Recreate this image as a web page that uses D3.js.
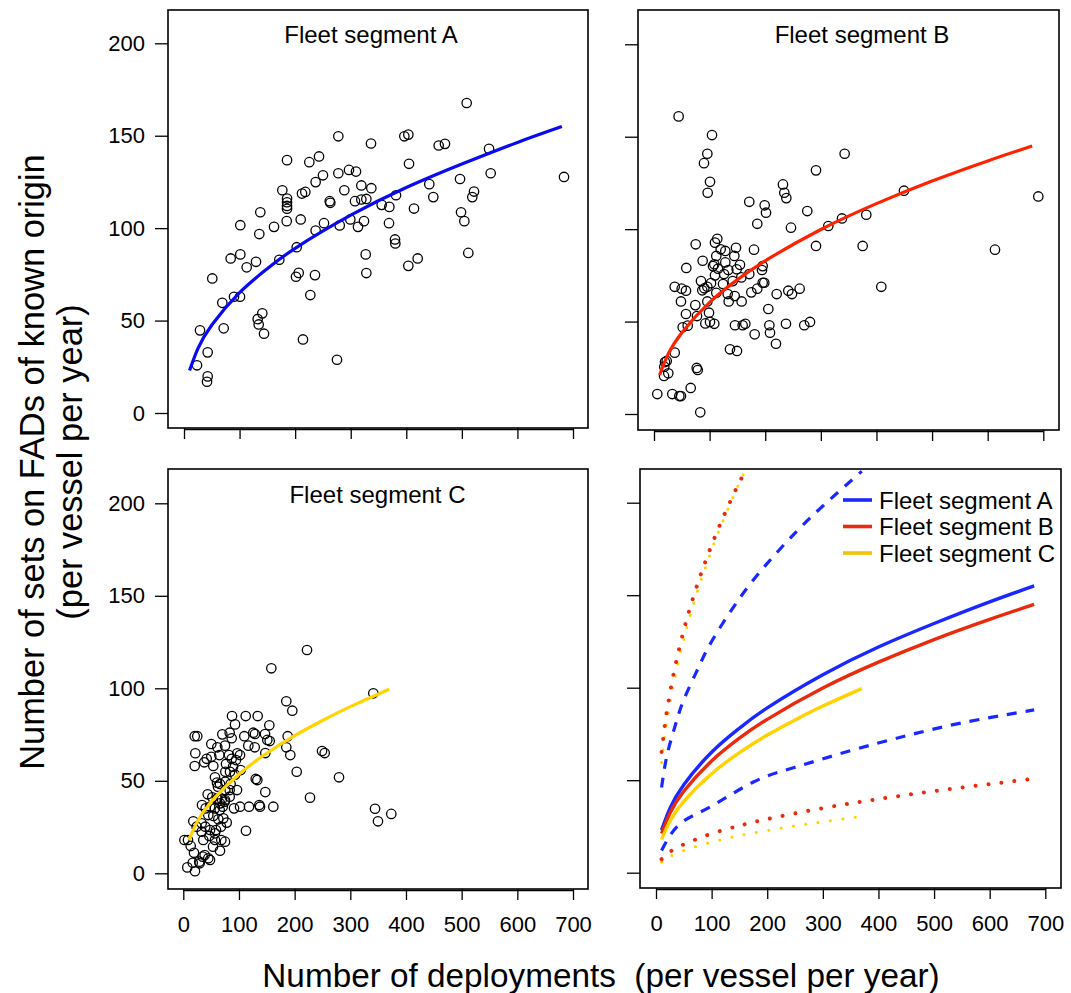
<!DOCTYPE html>
<html>
<head>
<meta charset="utf-8">
<script src="https://cdn.jsdelivr.net/npm/d3@7"></script>
<style>
  html, body { margin: 0; padding: 0; background: #fff; }
  svg { display: block; font-family: "Liberation Sans", Arial, Helvetica, sans-serif; }
</style>
</head>
<body>
<svg id="chart" width="1071" height="993"></svg>
<script>
// ---------------- DATA ----------------
const xTicks = [0, 100, 200, 300, 400, 500, 600, 700];
const yTicks = [0, 50, 100, 150, 200];
const panelTitles = ["Fleet segment A", "Fleet segment B", "Fleet segment C"];
const legendLabels = ["Fleet segment A", "Fleet segment B", "Fleet segment C"];
const xAxisTitle = "Number of deployments  (per vessel per year)";
const yAxisTitle1 = "Number of sets on FADs of known origin";
const yAxisTitle2 = "(per vessel per year)";

// Fleet segment A observations [deployments, sets]
const pointsA = [[508.7,167.7],[277.7,149.7],[396.5,149.7],[403.7,150.6],[336.5,145.8],[458.3,144.7],[469.6,145.6],[548.9,142.9],[185.4,136.8],[225.5,135.7],[243,138.8],[404.9,134.8],[296.9,131.5],[309.5,130.6],[277.7,129.7],[250.1,128.6],[551.9,129.7],[683.8,127.7],[496.7,126.6],[236.9,124.9],[319.1,123.1],[337.1,121.6],[288.5,120.5],[176.9,120.5],[212.3,118.7],[218.3,119.6],[185.4,116],[185.4,114],[185.4,112],[185.4,110.5],[262.2,114.6],[263.3,113.7],[307.7,114.6],[319.1,115.5],[328.1,115.8],[441.4,123.8],[381.5,117.8],[521.9,119.8],[518.8,116.8],[448.6,116.8],[355.7,112.6],[369.5,111.5],[137.3,108.6],[413.9,110.6],[498.5,108.6],[504.5,103.8],[210,104.7],[184.8,103.8],[251.9,102.7],[299.3,104.7],[323.9,103.8],[280.2,101.5],[313.1,100.7],[368.9,102.7],[101.3,101.6],[162,100.7],[135.5,96.8],[236.9,98.7],[379.7,93.9],[380.3,91.7],[202.8,89.7],[101.3,85.8],[84,83.6],[129.6,81.8],[112.8,78.8],[171.5,82.9],[327,85.8],[420.5,83.6],[403.7,79.6],[511.6,86.6],[328.1,75.7],[206.4,75.8],[201.5,73.7],[235.7,74.6],[50.9,72.8],[227.3,63.8],[90,62.9],[100.8,62.9],[68.9,59.6],[140.9,53.9],[132.6,50.8],[134.4,47.9],[144,42.9],[28.8,44.7],[71.4,45.8],[214.1,39.8],[42.6,32.8],[275.3,28.8],[23.4,25.8],[42.6,19.8],[41.4,16.9]];

// Fleet segment B observations
const pointsB = [[44.3,161],[104.3,150.9],[95.9,140.8],[89.9,135.7],[100.7,125.6],[96.5,119.7],[342.8,140.8],[291.3,131.8],[231.9,124.2],[234.3,119.7],[237.9,116.8],[449.5,120.8],[691,117.7],[171.3,114.8],[199,112.9],[201.4,108.9],[275.6,109.8],[381.7,107.8],[338,105.8],[313.4,101.7],[185.7,102.9],[246.3,100.8],[291.3,90.9],[375.2,90.9],[613.1,88.9],[113.8,94.8],[109.7,92.7],[75,91.8],[147.4,89.9],[128.2,88.2],[119.9,89.1],[179.8,88.9],[112,85.5],[144.4,85.5],[128.2,82],[154.6,80.7],[87.5,82.9],[108.4,81],[106.1,80],[58.1,79],[195.4,80],[194.2,77.9],[115.1,78.6],[133.6,77.9],[148.7,78.3],[125.9,75.7],[109.7,75],[171.3,75.7],[157,73.9],[141.5,71.9],[124.1,70.3],[102.5,70.8],[84.5,71.9],[195.4,71],[198.3,71],[95.9,68.8],[86.8,66.9],[90.5,68],[37.2,68.8],[49.8,67.8],[57.5,66.7],[185.7,67.8],[175,65.8],[112,65.6],[132.5,64.9],[145.1,63.8],[220.6,64.9],[241.5,66.7],[248.1,64.9],[261.9,67.8],[95.9,60.9],[48.5,60.9],[134.3,60.9],[157.6,60.9],[74.3,58.9],[205.6,56.8],[57.5,54.1],[98.9,54.8],[77.3,53],[92.3,49],[108.4,48.8],[100.7,49.8],[145.6,48],[159.4,48],[164.2,48.8],[207.4,48],[208.6,44],[237.3,48.8],[270.2,48],[280.5,49.8],[51.6,46.9],[60.6,47.8],[181,43.1],[219.3,38],[136.6,35],[149.2,34.1],[408.7,68.8],[37.2,33.2],[19.8,28.1],[22.8,28.7],[18.5,25.6],[25.7,22],[18,20.6],[76.8,24.9],[78.6,23.8],[66,14.1],[5.9,10.8],[32.9,10.8],[45.5,9.7],[48.5,9.7],[83.2,0.9]];

// Fleet segment C observations
const pointsC = [[222.2,120.7],[158.1,110.8],[341.3,97.3],[185,93],[195.8,87.9],[87.5,85],[112.1,85],[133.6,85],[92.9,80.5],[154.5,80],[20.5,74.1],[25.1,74.1],[70.1,75.1],[83.3,76],[109.6,74.1],[125.7,76],[128.8,75.3],[146.8,75.3],[187.5,74.1],[150.9,72.1],[155.2,71.5],[86.9,73],[50.3,69.9],[61.1,68.1],[116.8,69],[128.3,68.1],[185,68.1],[147.3,65],[192.2,63.9],[249.2,66.1],[254,65],[21.6,64.9],[74.9,69],[82.1,63.9],[97,64.9],[101.9,63.9],[64.7,63.9],[50.3,63],[42,61.9],[37.7,60],[53.9,58],[20.5,58],[76.7,59.1],[86.9,61.9],[94.7,61.2],[103.1,55.8],[83.9,54.9],[92.9,53.3],[56.9,51.9],[60.5,49],[65.9,48.3],[203.7,54.9],[279.7,51.9],[130.1,51],[133,50.4],[75.4,45],[83.3,45],[96.5,45],[147.3,43.9],[43.8,42.7],[52.1,41.1],[60.5,40],[69.5,40],[74.9,39.6],[227.6,40.9],[33.6,36.9],[40.2,35.1],[48,36],[56.9,35.1],[65.9,37.8],[74.4,38.7],[70.8,36],[91.1,35.1],[101.9,36],[118,36],[136.5,36.9],[137.8,36],[161.7,36],[344.4,34.9],[373.6,32.1],[349.7,28.1],[18,28.1],[33,27],[44.9,31.5],[53.9,31],[62.9,29.2],[71.9,29.7],[78,27.4],[67.7,25.2],[58.7,23.4],[112.6,23],[2,18],[8.4,18],[13.3,14.8],[19.2,11.1],[35.9,18],[46.7,20.2],[56.9,18],[74.9,17.1],[65.9,12.2],[34.8,9],[44.9,8.1],[48,7.2],[28.7,6.3],[16.9,5.7],[7.2,3.2],[21,1.1],[33,22.5],[24,25.2],[48,23.4],[56.9,21.6],[61,40.5],[89.3,57.6],[75.5,54.9],[62.3,46.8],[75.5,49.5],[85,48.3],[83.3,41.4],[65.4,34.2],[39.5,25.2],[68.3,18],[53.4,14.4],[29.4,5.4],[38.4,9.9]];

// Fitted curves
const fitAx = [10, 25, 50, 100, 150, 200, 300, 400, 500, 600, 680];
const fitAy = [23, 34.8, 47.6, 65.1, 78.1, 89.1, 107, 122, 134.7, 146.4, 155];
const fitBx = [10, 25, 50, 100, 150, 200, 300, 400, 500, 600, 680];
const fitBy = [21.1, 32.1, 44, 60.4, 72.7, 82.9, 99.8, 113.8, 126, 136.9, 145];
const fitCx = [10, 25, 50, 100, 150, 200, 250, 300, 370];
const fitCy = [18, 27.8, 38.6, 53.5, 64.9, 74.4, 82.6, 90.1, 99.5];

// Bounds (panel D)
const upAx = [10, 20, 35, 50, 75, 100, 150, 200, 250, 300, 370];
const upAy = [46, 63.7, 80, 93.5, 110, 125, 148.2, 167.2, 183.6, 198.2, 217];
const loAx = [10, 25, 50, 100, 175, 250, 350, 450, 550, 680];
const loAy = [12, 20, 28, 36, 49, 57, 66, 74, 81, 88];
const upBx = [10, 15, 20, 30, 40, 50, 60, 75, 90, 110, 130, 150, 170];
const upBy = [65.3, 77.9, 88.2, 105.1, 119, 131.1, 141.9, 156.3, 169.1, 184.5, 198.3, 211, 222.8];
const loBx = [10, 25, 50, 100, 150, 200, 300, 400, 500, 600, 680];
const loBy = [7.3, 11.2, 15.3, 21.1, 25.4, 29, 34.9, 39.8, 44.1, 47.9, 50.8];
const upCx = [10, 15, 20, 30, 40, 50, 60, 75, 90, 110, 130, 150, 170];
const upCy = [59.6, 72, 82.4, 99.5, 113.8, 126.3, 137.5, 152.5, 166, 182.4, 197, 210.7, 223.4];
const loCx = [10, 25, 50, 100, 150, 200, 250, 300, 360];
const loCy = [5.7, 8.7, 12, 16.5, 20, 22.8, 25.3, 27.5, 30];

// ---------------- DRAWING ----------------
const svg = d3.select("#chart");
const FONT_TICK = 22, FONT_TITLE = 24, FONT_XAXIS = 33.3, FONT_YAXIS = 34.4;

const panelGeo = [
  { box: [168, 10, 588, 428], x0: 184, x700: 573, y0: 413, y200: 43.3, yLabels: true,  xLabels: false, titleX: 371,   titleY: 43.3 },
  { box: [638, 10, 1059, 430], x0: 654, x700: 1043.3, y0: 414, y200: 44.3, yLabels: false, xLabels: false, titleX: 862, titleY: 43.3 },
  { box: [168, 469, 588, 889], x0: 183.3, x700: 573, y0: 873.3, y200: 503.3, yLabels: true, xLabels: true, titleX: 377.5, titleY: 503.3 },
  { box: [640, 469, 1061, 888], x0: 656, x700: 1045.3, y0: 872.7, y200: 502.7, yLabels: false, xLabels: true }
];

function setup(i) {
  const g = panelGeo[i];
  const x = d3.scaleLinear().domain([0, 700]).range([g.x0, g.x700]);
  const y = d3.scaleLinear().domain([0, 200]).range([g.y0, g.y200]);
  const [bx0, by0, bx1, by1] = g.box;

  const clipId = "clip" + i;
  svg.append("clipPath").attr("id", clipId)
    .append("rect").attr("x", bx0).attr("y", by0).attr("width", bx1 - bx0).attr("height", by1 - by0);

  // x axis
  const xa = svg.append("g").attr("transform", `translate(0,${by1})`)
    .call(d3.axisBottom(x).tickValues(xTicks).tickSize(11).tickSizeOuter(0)
      .tickFormat(g.xLabels ? d3.format("d") : () => ""));
  xa.select(".domain").remove();
  xa.selectAll(".tick line").attr("stroke", "#000").attr("stroke-width", 1.3);
  xa.selectAll("text").attr("y", 27).attr("dy", "0.71em")
    .attr("font-size", FONT_TICK).attr("fill", "#000")
    .attr("font-family", '"Liberation Sans", Arial, sans-serif');
  svg.append("line").attr("x1", x(0)).attr("x2", x(700)).attr("y1", by1 + 1.5).attr("y2", by1 + 1.5)
    .attr("stroke", "#000").attr("stroke-width", 1.3);

  // y axis
  const ya = svg.append("g").attr("transform", `translate(${bx0},0)`)
    .call(d3.axisLeft(y).tickValues(yTicks).tickSize(13).tickPadding(10)
      .tickFormat(g.yLabels ? d3.format("d") : () => ""));
  ya.select(".domain").remove();
  ya.selectAll(".tick line").attr("stroke", "#000").attr("stroke-width", 1.3);
  ya.selectAll("text").attr("font-size", FONT_TICK).attr("fill", "#000")
    .attr("font-family", '"Liberation Sans", Arial, sans-serif');

  const plot = svg.append("g").attr("clip-path", `url(#${clipId})`);
  return { x, y, plot, g };
}

function drawBox(i) {
  const [bx0, by0, bx1, by1] = panelGeo[i].box;
  svg.append("rect").attr("x", bx0).attr("y", by0).attr("width", bx1 - bx0).attr("height", by1 - by0)
    .attr("fill", "none").attr("stroke", "#000").attr("stroke-width", 1.6);
}

function zip(xs, ys) { return xs.map((v, k) => [v, ys[k]]); }

function drawLine(p, xs, ys, color, width, dash, cap) {
  const line = d3.line().x(d => p.x(d[0])).y(d => p.y(d[1])).curve(d3.curveNatural);
  const path = p.plot.append("path").datum(zip(xs, ys)).attr("d", line)
    .attr("fill", "none").attr("stroke", color).attr("stroke-width", width);
  if (dash) path.attr("stroke-dasharray", dash);
  if (cap) path.attr("stroke-linecap", cap);
  return path;
}

function drawPoints(p, pts) {
  p.plot.append("g").selectAll("circle").data(pts).join("circle")
    .attr("cx", d => p.x(d[0])).attr("cy", d => p.y(d[1])).attr("r", 4.7)
    .attr("fill", "none").attr("stroke", "#000").attr("stroke-width", 1.3);
}

function drawTitle(i, text) {
  const g = panelGeo[i];
  svg.append("text").attr("x", g.titleX).attr("y", g.titleY).attr("text-anchor", "middle")
    .attr("font-size", FONT_TITLE).attr("fill", "#000").text(text);
}

const colA = "#0a0af0", colB = "#ff2200", colC = "#ffd400";
const colAd = "#1a28ff", colBd = "#ea2a0c", colCd = "#ffd200";

// Panel A
const pA = setup(0);
drawPoints(pA, pointsA);
drawLine(pA, fitAx, fitAy, colA, 3.2);
drawBox(0);
drawTitle(0, panelTitles[0]);

// Panel B
const pB = setup(1);
drawPoints(pB, pointsB);
drawLine(pB, fitBx, fitBy, colB, 3.2);
drawBox(1);
drawTitle(1, panelTitles[1]);

// Panel C
const pC = setup(2);
drawPoints(pC, pointsC);
drawLine(pC, fitCx, fitCy, colC, 3.2);
drawBox(2);
drawTitle(2, panelTitles[2]);

// Panel D
const pD = setup(3);
drawLine(pD, upCx, upCy, colCd, 3, "0.01,12.5", "round");
drawLine(pD, loCx, loCy, colCd, 3, "0.01,12.5", "round");
drawLine(pD, upBx, upBy, colBd, 4, "0.01,13", "round");
drawLine(pD, loBx, loBy, colBd, 4, "0.01,13", "round");
drawLine(pD, upAx, upAy, colAd, 3.2, "10,9");
drawLine(pD, loAx, loAy, colAd, 3.2, "10,9");
drawLine(pD, fitAx, fitAy, colAd, 3.4);
drawLine(pD, fitBx, fitBy, colBd, 3.4);
drawLine(pD, fitCx, fitCy, colCd, 3.4);
drawBox(3);

// Legend
const legendColors = [colAd, colBd, "#efc400"];
const legendY = [500, 526.5, 553];
legendLabels.forEach((lab, k) => {
  svg.append("line").attr("x1", 843).attr("x2", 872).attr("y1", legendY[k]).attr("y2", legendY[k])
    .attr("stroke", legendColors[k]).attr("stroke-width", 3.6);
  svg.append("text").attr("x", 879).attr("y", legendY[k] + 8.6)
    .attr("font-size", FONT_TITLE).attr("fill", "#000").text(lab);
});

// Axis titles
svg.append("text").attr("x", 601).attr("y", 987).attr("text-anchor", "middle")
  .attr("font-size", FONT_XAXIS).attr("fill", "#000")
  .style("white-space", "pre").text(xAxisTitle);
svg.append("text").attr("transform", "translate(44,462) rotate(-90)").attr("text-anchor", "middle")
  .attr("font-size", FONT_YAXIS).attr("fill", "#000").text(yAxisTitle1);
svg.append("text").attr("transform", "translate(82,462) rotate(-90)").attr("text-anchor", "middle")
  .attr("font-size", FONT_YAXIS).attr("fill", "#000").text(yAxisTitle2);
</script>
</body>
</html>
